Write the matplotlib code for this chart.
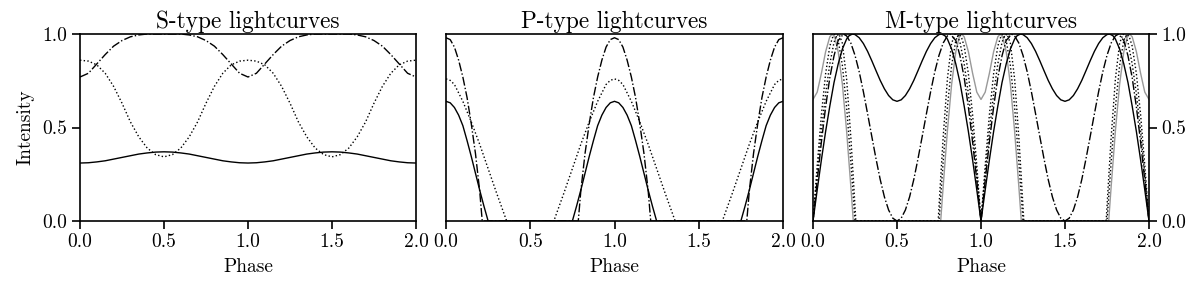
import numpy as np
import matplotlib
matplotlib.use('Agg')
import matplotlib.pyplot as plt

plt.rcParams['font.family'] = 'serif'
plt.rcParams['font.serif'] = ['cmr10']
plt.rcParams['mathtext.fontset'] = 'cm'
plt.rcParams['axes.formatter.use_mathtext'] = True
plt.rcParams['font.size'] = 14
plt.rcParams['axes.linewidth'] = 1.2

# --- S-type lightcurves (one period, phase 0..1) ---
s_phase = [0.0, 0.05, 0.1, 0.15, 0.2, 0.25, 0.3, 0.35, 0.4, 0.45, 0.5,
           0.55, 0.6, 0.65, 0.7, 0.75, 0.8, 0.85, 0.9, 0.95, 1.0]
s_solid = [0.31, 0.3115, 0.316, 0.322, 0.331, 0.34, 0.349, 0.358, 0.364, 0.3685, 0.37,
           0.3685, 0.364, 0.358, 0.349, 0.34, 0.331, 0.322, 0.316, 0.3115, 0.31]
s_dotted = [0.86, 0.855, 0.835, 0.79, 0.72, 0.63, 0.53, 0.45, 0.39, 0.355, 0.343,
            0.355, 0.39, 0.45, 0.53, 0.63, 0.72, 0.79, 0.835, 0.855, 0.86]
s_dashdot = [0.77, 0.79, 0.84, 0.89, 0.935, 0.965, 0.985, 0.995, 1.0, 1.0, 1.0,
             1.0, 1.0, 0.995, 0.985, 0.965, 0.935, 0.89, 0.84, 0.79, 0.77]

# --- P-type lightcurves ---
p_solid_phase = [0.0, 0.025, 0.05, 0.075, 0.1, 0.125, 0.15, 0.175, 0.2, 0.225, 0.25,
                 0.75, 0.775, 0.8, 0.825, 0.85, 0.875, 0.9, 0.925, 0.95, 0.975, 1.0]
p_solid = [0.64, 0.632, 0.607, 0.566, 0.51, 0.43, 0.345, 0.255, 0.165, 0.08, 0.0,
           0.0, 0.08, 0.165, 0.255, 0.345, 0.43, 0.51, 0.566, 0.607, 0.632, 0.64]
p_dashdot_phase = [0.0, 0.025, 0.05, 0.075, 0.1, 0.125, 0.15, 0.175, 0.2, 0.215,
                   0.785, 0.8, 0.825, 0.85, 0.875, 0.9, 0.925, 0.95, 0.975, 1.0]
p_dashdot = [0.98, 0.97, 0.93, 0.86, 0.77, 0.66, 0.52, 0.36, 0.16, 0.0,
             0.0, 0.16, 0.36, 0.52, 0.66, 0.77, 0.86, 0.93, 0.97, 0.98]
p_dotted_phase = [0.0, 0.025, 0.05, 0.1, 0.15, 0.2, 0.25, 0.3, 0.36,
                  0.64, 0.7, 0.75, 0.8, 0.85, 0.9, 0.95, 0.975, 1.0]
p_dotted = [0.76, 0.752, 0.73, 0.64, 0.53, 0.41, 0.28, 0.15, 0.0,
            0.0, 0.15, 0.28, 0.41, 0.53, 0.64, 0.73, 0.752, 0.76]

# --- M-type lightcurves ---
m_grey_phase = [0.0, 0.025, 0.05, 0.075, 0.1, 0.115, 0.13, 0.15, 0.175, 0.2, 0.225, 0.24,
                0.76, 0.775, 0.8, 0.825, 0.85, 0.87, 0.885, 0.9, 0.925, 0.95, 0.975, 1.0]
m_grey = [0.65, 0.689, 0.79, 0.905, 0.985, 1.0, 0.982, 0.905, 0.73, 0.482, 0.187, 0.0,
          0.0, 0.187, 0.482, 0.73, 0.905, 0.982, 1.0, 0.985, 0.905, 0.79, 0.689, 0.65]
m_dotA_phase = [0.0, 0.025, 0.05, 0.075, 0.1, 0.115, 0.13, 0.15, 0.175, 0.2, 0.225, 0.25,
                0.75, 0.775, 0.8, 0.825, 0.85, 0.87, 0.885, 0.9, 0.925, 0.95, 0.975, 1.0]
m_dotA = [0.0, 0.297, 0.568, 0.787, 0.935, 0.978, 1.0, 0.966, 0.831, 0.609, 0.32, 0.0,
          0.0, 0.32, 0.609, 0.831, 0.966, 1.0, 0.978, 0.935, 0.787, 0.568, 0.297, 0.0]
m_dotB_phase = [0.0, 0.025, 0.05, 0.075, 0.1, 0.125, 0.14, 0.155, 0.175, 0.2, 0.225, 0.24, 0.255,
                0.745, 0.76, 0.775, 0.8, 0.825, 0.845, 0.86, 0.875, 0.9, 0.925, 0.95, 0.975, 1.0]
m_dotB = [0.0, 0.25, 0.48, 0.68, 0.84, 0.955, 0.989, 1.0, 0.95, 0.76, 0.45, 0.23, 0.0,
          0.0, 0.23, 0.45, 0.76, 0.95, 1.0, 0.989, 0.955, 0.84, 0.68, 0.48, 0.25, 0.0]
m_dashdot_phase = [0.0, 0.025, 0.05, 0.075, 0.1, 0.125, 0.15, 0.165, 0.18, 0.2, 0.225, 0.25,
                   0.275, 0.3, 0.325, 0.35, 0.375, 0.4, 0.425, 0.45, 0.475, 0.5,
                   0.525, 0.55, 0.575, 0.6, 0.625, 0.65, 0.675, 0.7, 0.725, 0.75,
                   0.775, 0.8, 0.82, 0.835, 0.85, 0.875, 0.9, 0.925, 0.95, 0.975, 1.0]
m_dashdot = [0.0, 0.216, 0.423, 0.609, 0.766, 0.883, 0.966, 0.98, 1.0, 0.99, 0.952, 0.886,
             0.798, 0.691, 0.573, 0.452, 0.333, 0.222, 0.129, 0.059, 0.015, 0.0,
             0.015, 0.059, 0.129, 0.222, 0.333, 0.452, 0.573, 0.691, 0.798, 0.886,
             0.952, 0.99, 1.0, 0.98, 0.966, 0.883, 0.766, 0.609, 0.423, 0.216, 0.0]
m_solid_phase = [0.0, 0.025, 0.05, 0.075, 0.1, 0.125, 0.15, 0.175, 0.2, 0.215, 0.235, 0.25,
                 0.275, 0.3, 0.325, 0.35, 0.375, 0.4, 0.425, 0.45, 0.475, 0.5,
                 0.525, 0.55, 0.575, 0.6, 0.625, 0.65, 0.675, 0.7, 0.725, 0.75,
                 0.765, 0.785, 0.8, 0.825, 0.85, 0.875, 0.9, 0.925, 0.95, 0.975, 1.0]
m_solid = [0.0, 0.166, 0.327, 0.478, 0.614, 0.74, 0.84, 0.92, 0.973, 0.991, 1.0, 0.997,
           0.98, 0.949, 0.907, 0.857, 0.804, 0.752, 0.707, 0.671, 0.648, 0.64,
           0.648, 0.671, 0.707, 0.752, 0.804, 0.857, 0.907, 0.949, 0.98, 0.997,
           1.0, 0.991, 0.973, 0.92, 0.84, 0.74, 0.614, 0.478, 0.327, 0.166, 0.0]


def two_cycles(phase, vals):
    # the lightcurve repeats each period; show phase 0..2
    phase = np.asarray(phase)
    vals = np.asarray(vals)
    return np.concatenate([phase, phase + 1]), np.concatenate([vals, vals])


fig = plt.figure(figsize=(12, 2.84), dpi=100)
bottom, height = 1 - 221 / 284, 187 / 284
ax1 = fig.add_axes([80 / 1200, bottom, 336 / 1200, height])
ax2 = fig.add_axes([446 / 1200, bottom, 337 / 1200, height])
ax3 = fig.add_axes([813 / 1200, bottom, 336 / 1200, height])

lw = 1.0
ax1.plot(*two_cycles(s_phase, s_solid), '-', color='k', lw=lw)
ax1.plot(*two_cycles(s_phase, s_dotted), ':', color='k', lw=lw)
ax1.plot(*two_cycles(s_phase, s_dashdot), '-.', color='k', lw=lw)

ax2.plot(*two_cycles(p_solid_phase, p_solid), '-', color='k', lw=lw)
ax2.plot(*two_cycles(p_dotted_phase, p_dotted), ':', color='k', lw=lw)
ax2.plot(*two_cycles(p_dashdot_phase, p_dashdot), '-.', color='k', lw=lw)

ax3.plot(*two_cycles(m_grey_phase, m_grey), '-', color='0.6', lw=lw)
ax3.plot(*two_cycles(m_dotA_phase, m_dotA), ':', color='k', lw=lw)
ax3.plot(*two_cycles(m_dotB_phase, m_dotB), ':', color='k', lw=lw)
ax3.plot(*two_cycles(m_dashdot_phase, m_dashdot), '-.', color='k', lw=lw)
ax3.plot(*two_cycles(m_solid_phase, m_solid), '-', color='k', lw=lw)

titles = ['S-type lightcurves', 'P-type lightcurves', 'M-type lightcurves']
for ax, t in zip([ax1, ax2, ax3], titles):
    ax.set_xlim(0, 2)
    ax.set_ylim(0, 1)
    ax.set_xticks([0.0, 0.5, 1.0, 1.5, 2.0])
    ax.set_xticklabels(['0.0', '0.5', '1.0', '1.5', '2.0'])
    ax.set_yticks([0.0, 0.5, 1.0])
    ax.set_yticklabels(['0.0', '0.5', '1.0'])
    ax.tick_params(direction='out', length=5.5, width=1.2)
    ax.set_title(t, pad=4)
    ax.set_xlabel('Phase', labelpad=5)
    for sp in ax.spines.values():
        sp.set_zorder(5)

ax1.set_ylabel('Intensity', labelpad=6)
ax2.tick_params(axis='y', left=False, labelleft=False)
ax3.yaxis.tick_right()

fig.savefig('out.png', dpi=100)
